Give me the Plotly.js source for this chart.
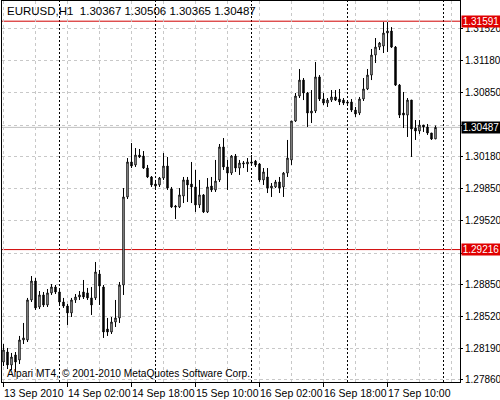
<!DOCTYPE html>
<html>
<head>
<meta charset="utf-8">
<script src="https://cdn.plot.ly/plotly-3.0.1.min.js"></script>
<style>html,body{margin:0;padding:0;background:#fff;}#chart{width:500px;height:400px;}</style>
</head>
<body>
<div id="chart"></div>
<script>
// ---- data (EURUSD, H1) ----
const symbol = 'EURUSD,H1';
const firstBar = '2010-09-13 10:00';
const open = [1.28047,1.28151,1.28016,1.28120,1.28068,1.28276,1.28276,1.28692,1.28889,1.28619,
1.28744,1.28640,1.28765,1.28827,1.28775,1.28671,1.28629,1.28557,1.28692,1.28723,
1.28775,1.28765,1.28713,1.28713,1.28962,1.28827,1.28390,1.28359,1.28463,1.28505,
1.28848,1.29763,1.30127,1.30096,1.30199,1.30189,1.30064,1.29971,1.29898,1.29888,
1.29960,1.30085,1.29846,1.29669,1.29659,1.29773,1.29940,1.29898,1.29867,1.29680,
1.29784,1.29607,1.29877,1.29836,1.29940,1.30283,1.30075,1.30012,1.30189,1.30064,
1.30106,1.30106,1.30127,1.30137,1.30106,1.29940,1.29971,1.29856,1.29867,1.29919,
1.29867,1.30012,1.30148,1.30553,1.30813,1.30979,1.30844,1.30636,1.30657,1.31011,
1.30782,1.30740,1.30771,1.30803,1.30782,1.30771,1.30751,1.30751,1.30667,1.30636,
1.30782,1.30886,1.31031,1.31239,1.31322,1.31333,1.31468,1.31489,1.31322,1.30927,
1.30636,1.30615,1.30771,1.30480,1.30449,1.30511,1.30491,1.30428,1.30367];
const high = [1.28234,1.28193,1.28141,1.28151,1.28318,1.28453,1.28713,1.28941,1.28921,1.28785,
1.28775,1.28806,1.28858,1.28848,1.28796,1.28713,1.28650,1.28713,1.28754,1.28785,
1.28900,1.28817,1.28827,1.29087,1.29004,1.28848,1.28505,1.28515,1.28692,1.28879,
1.29856,1.30168,1.30324,1.30272,1.30262,1.30241,1.30096,1.29981,1.29940,1.29971,
1.30220,1.30179,1.29867,1.29680,1.29856,1.29971,1.29971,1.30127,1.30044,1.29940,
1.29794,1.29960,1.29971,1.30148,1.30314,1.30376,1.30148,1.30199,1.30210,1.30148,
1.30137,1.30168,1.30199,1.30148,1.30116,1.30064,1.30064,1.29908,1.29940,1.29971,
1.30023,1.30356,1.30553,1.30844,1.31094,1.31000,1.30855,1.30875,1.31167,1.31031,
1.30844,1.30792,1.30875,1.30875,1.30886,1.30792,1.30771,1.30782,1.30699,1.30803,
1.31000,1.31094,1.31302,1.31416,1.31375,1.31582,1.31582,1.31530,1.31333,1.30938,
1.30855,1.30792,1.30771,1.30563,1.30563,1.30511,1.30522,1.30428,1.30506];
const low = [1.28005,1.27974,1.27964,1.27943,1.28026,1.28234,1.28255,1.28671,1.28588,1.28598,
1.28619,1.28619,1.28744,1.28754,1.28650,1.28609,1.28432,1.28515,1.28661,1.28692,
1.28702,1.28692,1.28536,1.28692,1.28640,1.28297,1.28318,1.28338,1.28411,1.28453,
1.28744,1.29742,1.30064,1.30075,1.30168,1.30054,1.29960,1.29867,1.29836,1.29867,
1.29940,1.29836,1.29648,1.29534,1.29648,1.29700,1.29711,1.29700,1.29607,1.29648,
1.29596,1.29596,1.29815,1.29815,1.29919,1.30044,1.29836,1.29992,1.30023,1.29992,
1.30064,1.30023,1.30096,1.30075,1.29919,1.29888,1.29804,1.29763,1.29856,1.29804,
1.29763,1.29971,1.30096,1.30543,1.30792,1.30771,1.30491,1.30532,1.30636,1.30761,
1.30719,1.30699,1.30751,1.30761,1.30719,1.30719,1.30730,1.30647,1.30595,1.30615,
1.30761,1.30875,1.30979,1.31156,1.31291,1.31260,1.31271,1.31312,1.30917,1.30584,
1.30480,1.30387,1.30179,1.30356,1.30418,1.30439,1.30408,1.30356,1.30365];
const close = [1.28172,1.28016,1.28099,1.28047,1.28276,1.28297,1.28692,1.28889,1.28609,1.28744,
1.28640,1.28765,1.28827,1.28775,1.28671,1.28629,1.28557,1.28692,1.28723,1.28744,
1.28723,1.28713,1.28640,1.28983,1.28837,1.28359,1.28359,1.28463,1.28505,1.28848,
1.29763,1.30127,1.30085,1.30199,1.30179,1.30064,1.29971,1.29888,1.29877,1.29960,
1.30085,1.29856,1.29659,1.29659,1.29784,1.29940,1.29888,1.29867,1.29680,1.29784,
1.29607,1.29867,1.29836,1.29929,1.30283,1.30075,1.30012,1.30189,1.30064,1.30116,
1.30116,1.30127,1.30116,1.30096,1.29940,1.30023,1.29856,1.29877,1.29919,1.29856,
1.30012,1.30168,1.30553,1.30813,1.30979,1.30844,1.30636,1.30657,1.31011,1.30782,
1.30740,1.30771,1.30803,1.30771,1.30751,1.30740,1.30740,1.30667,1.30626,1.30782,
1.30886,1.31031,1.31239,1.31322,1.31364,1.31468,1.31489,1.31322,1.30927,1.30615,
1.30615,1.30771,1.30470,1.30449,1.30511,1.30491,1.30428,1.30366,1.30487];
// price grid levels; the two levels hidden behind the price labels carry no visible text
const priceTicks = [1.27860,1.28190,1.28520,1.28850,1.29180,1.29520,1.29850,1.30180,1.30510,1.30850,1.31180,1.31520];
const priceTickText = ['1.27860','1.28190','1.28520','1.28850','','1.29520','1.29850','1.30180','','1.30850','1.31180','1.31520'];
const timeTickVals = ['2010-09-13 10:00','2010-09-14 02:00','2010-09-14 18:00','2010-09-15 10:00','2010-09-16 02:00','2010-09-16 18:00','2010-09-17 10:00'];
const timeTickText = ['13 Sep 2010','14 Sep 02:00','14 Sep 18:00','15 Sep 10:00','16 Sep 02:00','16 Sep 18:00','17 Sep 10:00'];
const daySeparators = ['2010-09-14 00:00','2010-09-15 00:00','2010-09-16 00:00','2010-09-17 00:00','2010-09-18 00:00'];
const levels = [1.31591, 1.29216];
const copyright = 'Alpari MT4, \u00a9 2001-2010 MetaQuotes Software Corp.';

// ---- build ----
function fmt(d){
  const p = n => String(n).padStart(2,'0');
  return d.getUTCFullYear()+'-'+p(d.getUTCMonth()+1)+'-'+p(d.getUTCDate())+' '+p(d.getUTCHours())+':'+p(d.getUTCMinutes());
}
const t0 = Date.parse(firstBar.replace(' ','T')+':00Z');
const times = open.map((_, i) => fmt(new Date(t0 + i*3600000)));
const FONT = 'Liberation Sans Narrow, Arial Narrow, sans-serif';

const trace = {
  type:'candlestick', x:times, open:open, high:high, low:low, close:close,
  increasing:{line:{color:'#000', width:1}, fillcolor:'#fff'},
  decreasing:{line:{color:'#000', width:1}, fillcolor:'#000'},
  whiskerwidth:0, hoverinfo:'skip', showlegend:false
};

const last = open.length-1;
const shapes = [];
daySeparators.forEach(d => shapes.push({type:'line', xref:'x', yref:'paper', x0:d, x1:d, y0:0, y1:1,
  line:{color:'#000', width:1, dash:'2px,2px'}, layer:'below'}));
levels.forEach(v => shapes.push({type:'line', xref:'paper', yref:'y', x0:0, x1:1, y0:v, y1:v,
  line:{color:'#d00000', width:1}, layer:'below'}));
shapes.push({type:'line', xref:'paper', yref:'y', x0:0, x1:1, y0:close[last], y1:close[last],
  line:{color:'#c0c0c0', width:1}, layer:'below'});

const annotations = [];
levels.forEach(v => annotations.push({xref:'paper', yref:'y', x:1, y:v, xanchor:'left', yanchor:'middle',
  xshift:1, text:v.toFixed(5), showarrow:false, bgcolor:'#e00000', font:{family:FONT, size:10, color:'#fff'},
  width:38, height:11, borderpad:0, align:'center'}));
annotations.push({xref:'paper', yref:'y', x:1, y:close[last], xanchor:'left', yanchor:'middle',
  xshift:1, text:close[last].toFixed(5), showarrow:false, bgcolor:'#000', font:{family:FONT, size:10, color:'#fff'},
  width:38, height:11, borderpad:0, align:'center'});
const sp = '\u00a0';
annotations.push({xref:'paper', yref:'paper', x:0, y:1, xanchor:'left', yanchor:'top', xshift:3, yshift:-2,
  text: symbol+sp+sp+[open[last],high[last],low[last],close[last]].map(v=>v.toFixed(5)).join(sp),
  showarrow:false, font:{family:FONT, size:11.5, color:'#000'}});
annotations.push({xref:'paper', yref:'paper', x:0, y:0, xanchor:'left', yanchor:'bottom', xshift:3, yshift:1,
  text: copyright, showarrow:false, font:{family:FONT, size:10.2, color:'#000'}});
// time-axis labels, left-aligned at their tick marks
timeTickVals.forEach((t, k) => annotations.push({xref:'x', yref:'paper', x:t, y:0, xanchor:'left', yanchor:'top',
  xshift:-1, yshift:-4, text:timeTickText[k], showarrow:false, borderpad:0,
  font:{family:FONT, size:10.5, color:'#000'}}));

const layout = {
  width:500, height:400,
  margin:{l:2, r:40, t:1, b:18, pad:0},
  paper_bgcolor:'#fff', plot_bgcolor:'#fff',
  showlegend:false, boxgap:0.5,
  font:{family:FONT, size:11, color:'#000'},
  xaxis:{type:'date', range:['2010-09-13 09:37:30','2010-09-18 04:07:30'], rangeslider:{visible:false},
    showline:true, mirror:true, linecolor:'#000', linewidth:1,
    tickmode:'array', tickvals:timeTickVals, ticktext:timeTickText, showticklabels:false,
    ticks:'outside', ticklen:4, tickcolor:'#000',
    showgrid:true, gridcolor:'#c8c8c8', griddash:'3px,3px', gridwidth:1,
    minor:{tick0:firstBar, dtick:8*3600000, showgrid:true, gridcolor:'#c8c8c8', griddash:'3px,3px', ticklen:0},
    zeroline:false, fixedrange:true},
  yaxis:{side:'right', range:[1.27839, 1.31801], tickmode:'array', tickvals:priceTicks,
    ticktext:priceTickText, ticks:'outside', ticklen:2, tickcolor:'#000',
    tickfont:{family:FONT, size:10, color:'#000'},
    showgrid:true, gridcolor:'#c8c8c8', griddash:'3px,3px', gridwidth:1,
    showline:true, mirror:true, linecolor:'#000', linewidth:1, zeroline:false, fixedrange:true},
  shapes:shapes, annotations:annotations
};
Plotly.newPlot('chart', [trace], layout, {staticPlot:true, displayModeBar:false});
</script>
</body>
</html>
